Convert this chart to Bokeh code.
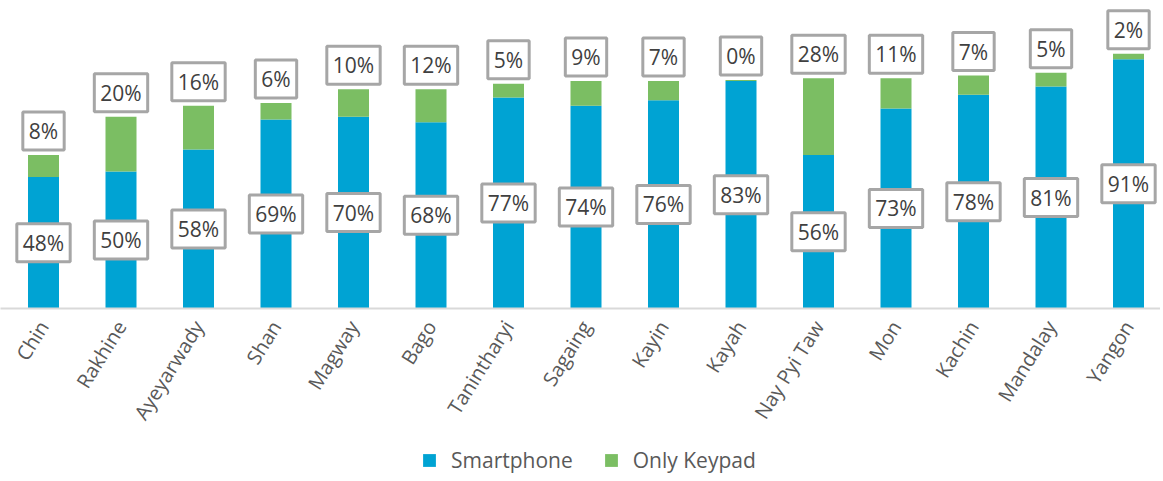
import math
from bokeh.plotting import figure
from bokeh.layouts import column
from bokeh.models import ColumnDataSource, FixedTicker, Range1d, Legend, LegendItem
from bokeh.core.properties import value
from bokeh.embed import file_html
from bokeh.resources import INLINE

regions = ["Chin", "Rakhine", "Ayeyarwady", "Shan", "Magway", "Bago", "Tanintharyi",
           "Sagaing", "Kayin", "Kayah", "Nay Pyi Taw", "Mon", "Kachin", "Mandalay", "Yangon"]
smartphone = [48, 50, 58, 69, 70, 68, 77, 74, 76, 83, 56, 73, 78, 81, 91]
keypad = [8, 20, 16, 6, 10, 12, 5, 9, 7, 0.4, 28, 11, 7, 5, 2]
series_names = ["Smartphone", "Only Keypad"]

BLUE = "#00a3d3"
GREEN = "#7bbe63"
FONT = "Open Sans"

xs = list(range(len(regions)))
total = [s + k for s, k in zip(smartphone, keypad)]
src = ColumnDataSource(dict(
    x=xs,
    smart=smartphone,
    key=keypad,
    total=total,
    smid=[s / 2 for s in smartphone],
    slab=[f"{s:.0f}%" for s in smartphone],
    klab=[f"{k:.0f}%" for k in keypad],
))

W = 1160
H1 = 446
H2 = 32
FRAME_H = 308
px_per_unit = 77.5
x_start = -43 / px_per_unit
x_end = x_start + W / px_per_unit

p = figure(width=W, height=H1, output_backend="svg", toolbar_location=None,
           x_range=Range1d(x_start, x_end), y_range=Range1d(0, FRAME_H / 2.74),
           min_border_left=0, min_border_right=0, min_border_top=0,
           min_border_bottom=H1 - FRAME_H)
p.outline_line_color = None
p.grid.visible = False
p.yaxis.visible = False

p.vbar(x="x", bottom=0, top="smart", width=0.4, source=src, fill_color=BLUE, line_color=None)
p.vbar(x="x", bottom="smart", top="total", width=0.4, source=src, fill_color=GREEN, line_color=None)

common = dict(text_font=value(FONT), text_font_size="21px", text_color="#404040",
              text_align="center", text_baseline="middle",
              background_fill_color="white", border_line_color="#a6a6a6",
              border_line_width=3, padding=dict(left=6, right=6, top=5, bottom=5))
p.text(x="x", y="smid", text="slab", source=src, **common)
p.text(x="x", y="total", text="klab", source=src, y_offset=-24, **common)

ax = p.xaxis[0]
ax.ticker = FixedTicker(ticks=xs)
ax.major_label_overrides = {i: n for i, n in enumerate(regions)}
ax.major_label_orientation = math.radians(58)
ax.major_tick_line_color = None
ax.minor_tick_line_color = None
ax.axis_line_color = "#d9d9d9"
ax.axis_line_width = 2
ax.major_label_standoff = 8
ax.major_label_text_font = FONT
ax.major_label_text_font_size = "20px"
ax.major_label_text_color = "#595959"

# legend strip
p2 = figure(width=W, height=H2, output_backend="svg", toolbar_location=None,
            x_range=Range1d(0, 1), y_range=Range1d(0, 1),
            min_border_left=0, min_border_right=0, min_border_top=0, min_border_bottom=0)
p2.outline_line_color = None
p2.grid.visible = False
p2.axis.visible = False
l1 = p2.vbar(x=[-5], top=[0], width=0.1, fill_color=BLUE, line_color=None)
l2 = p2.vbar(x=[-5], top=[0], width=0.1, fill_color=GREEN, line_color=None)
legend = Legend(items=[LegendItem(label=series_names[0], renderers=[l1]),
                       LegendItem(label=series_names[1], renderers=[l2])],
                orientation="horizontal", location=(421, 4),
                glyph_width=16, glyph_height=16, label_standoff=14, spacing=30,
                padding=0, margin=0, border_line_color=None, background_fill_alpha=0,
                label_text_font=FONT, label_text_font_size="21px", label_text_color="#595959")
p2.add_layout(legend)

open("out.html", "w").write(file_html(column(p, p2, spacing=0), INLINE))
